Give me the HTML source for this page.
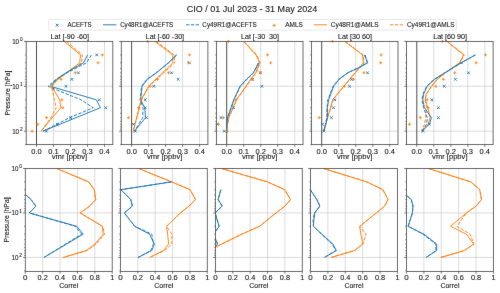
<!DOCTYPE html>
<html><head><meta charset="utf-8"><style>
html,body{margin:0;padding:0;background:#fff;width:500px;height:293px;overflow:hidden}
svg{display:block}
text{font-family:"Liberation Sans",sans-serif;fill:#111;stroke:#111;stroke-width:0.08px}
</style></head><body>
<svg width="500" height="293" viewBox="0 0 500 293">
<filter id="sb" x="0" y="0" width="100%" height="100%" filterUnits="userSpaceOnUse" color-interpolation-filters="sRGB"><feConvolveMatrix order="3" kernelMatrix="0.01 0.05 0.01 0.05 1 0.05 0.01 0.05 0.01"/></filter>
<g filter="url(#sb)">
<rect width="500" height="293" fill="#fff"/>
<defs>
<clipPath id="ct0"><rect x="26.2" y="41.4" width="86.6" height="103.2"/></clipPath>
<clipPath id="cb0"><rect x="25.3" y="168.45" width="86.9" height="102.95"/></clipPath>
<clipPath id="ct1"><rect x="121.3" y="41.4" width="86.6" height="103.2"/></clipPath>
<clipPath id="cb1"><rect x="120.4" y="168.45" width="86.9" height="102.95"/></clipPath>
<clipPath id="ct2"><rect x="216.4" y="41.4" width="86.6" height="103.2"/></clipPath>
<clipPath id="cb2"><rect x="215.4" y="168.45" width="86.9" height="102.95"/></clipPath>
<clipPath id="ct3"><rect x="311.4" y="41.4" width="86.6" height="103.2"/></clipPath>
<clipPath id="cb3"><rect x="310.5" y="168.45" width="86.9" height="102.95"/></clipPath>
<clipPath id="ct4"><rect x="406.5" y="41.4" width="86.6" height="103.2"/></clipPath>
<clipPath id="cb4"><rect x="406.5" y="168.45" width="86.9" height="102.95"/></clipPath>
</defs>
<text x="252" y="11.5" font-size="9.4" text-anchor="middle" textLength="130.68" lengthAdjust="spacingAndGlyphs">CIO / 01 Jul 2023 - 31 May 2024</text>
<rect x="48.6" y="19.4" width="407.8" height="10.7" rx="1.2" fill="#fff" stroke="#d6d6d6" stroke-width="0.6"/>
<path d="M55.8 23.8L58.6 26.6M55.8 26.6L58.6 23.8" stroke="#1f77b4" stroke-width="0.95"/>
<text x="67.45" y="26.9" font-size="6.5" text-anchor="start" textLength="24.1" lengthAdjust="spacingAndGlyphs">ACEFTS</text>
<line x1="103" y1="24.8" x2="116.3" y2="24.8" stroke="#1f77b4" stroke-width="0.95"/>
<text x="120.15" y="26.9" font-size="6.5" text-anchor="start" textLength="52.9" lengthAdjust="spacingAndGlyphs">Cy48R1@ACEFTS</text>
<line x1="186" y1="24.8" x2="199" y2="24.8" stroke="#1f77b4" stroke-width="0.95" stroke-dasharray="3.4,1.5"/>
<text x="202.35" y="26.9" font-size="6.5" text-anchor="start" textLength="54.3" lengthAdjust="spacingAndGlyphs">Cy49R1@ACEFTS</text>
<path d="M272.6 25.3L275.8 25.3M274.2 23.7L274.2 26.9" stroke="#ff7f0e" stroke-width="0.9"/>
<text x="285.15" y="26.9" font-size="6.5" text-anchor="start" textLength="17.7" lengthAdjust="spacingAndGlyphs">AMLS</text>
<line x1="314" y1="24.8" x2="327" y2="24.8" stroke="#ff7f0e" stroke-width="0.95"/>
<text x="330.75" y="26.9" font-size="6.5" text-anchor="start" textLength="47.9" lengthAdjust="spacingAndGlyphs">Cy48R1@AMLS</text>
<line x1="390" y1="24.8" x2="403" y2="24.8" stroke="#ff7f0e" stroke-width="0.95" stroke-dasharray="3.4,1.5"/>
<text x="406.95" y="26.9" font-size="6.5" text-anchor="start" textLength="47.7" lengthAdjust="spacingAndGlyphs">Cy49R1@AMLS</text>
<line x1="53.5" y1="41.4" x2="53.5" y2="144.6" stroke="#d2d2d2" stroke-width="0.8"/>
<line x1="70.5" y1="41.4" x2="70.5" y2="144.6" stroke="#d2d2d2" stroke-width="0.8"/>
<line x1="87.5" y1="41.4" x2="87.5" y2="144.6" stroke="#d2d2d2" stroke-width="0.8"/>
<line x1="104.5" y1="41.4" x2="104.5" y2="144.6" stroke="#d2d2d2" stroke-width="0.8"/>
<line x1="26.2" y1="86.3" x2="112.8" y2="86.3" stroke="#d2d2d2" stroke-width="0.8"/>
<line x1="26.2" y1="131.2" x2="112.8" y2="131.2" stroke="#d2d2d2" stroke-width="0.8"/>
<line x1="36.5" y1="41.4" x2="36.5" y2="144.6" stroke="#3a3a3a" stroke-width="0.9"/>
<g clip-path="url(#ct0)">
<polyline points="64.2,41.4 80.5,54.92 79.7,62.82 66.5,72.78 57.5,79.34 51.5,86.3 59.8,99.82 60.8,107.72 40.9,131.2" fill="none" stroke="#ff7f0e" stroke-width="0.95" stroke-linejoin="round" stroke-linecap="butt"/>
<polyline points="66.5,41.4 82.3,54.92 81.6,62.82 67,72.78 58,79.34 51.6,86.3 54.4,99.82 56.2,107.72 51,117.68 46,124.24 41.5,131.2" fill="none" stroke="#ff7f0e" stroke-width="0.95" stroke-linejoin="round" stroke-linecap="butt" stroke-dasharray="3.4,1.5"/>
<polyline points="87.6,54.92 83.5,62.82 66,72.78 56.5,79.34 50.5,86.3 96.3,99.82 100.4,107.72 42.9,131.2" fill="none" stroke="#1f77b4" stroke-width="0.95" stroke-linejoin="round" stroke-linecap="butt"/>
<polyline points="91.5,54.92 86.4,62.82 67,72.78 56,79.34 48,86.3 81,99.82 93.2,107.72 69.5,117.68 57,124.24 43,131.2" fill="none" stroke="#1f77b4" stroke-width="0.95" stroke-linejoin="round" stroke-linecap="butt" stroke-dasharray="3.4,1.5"/>
</g>
<path d="M95.4 53.62L98 56.22M95.4 56.22L98 53.62" stroke="#1f77b4" stroke-width="0.95"/>
<path d="M77.1 71.48L79.7 74.08M77.1 74.08L79.7 71.48" stroke="#1f77b4" stroke-width="0.95"/>
<path d="M70.5 78.04L73.1 80.64M70.5 80.64L73.1 78.04" stroke="#1f77b4" stroke-width="0.95"/>
<path d="M64.7 85L67.3 87.6M64.7 87.6L67.3 85" stroke="#1f77b4" stroke-width="0.95"/>
<path d="M98 98.52L100.6 101.12M98 101.12L100.6 98.52" stroke="#1f77b4" stroke-width="0.95"/>
<path d="M104.4 106.42L107 109.02M104.4 109.02L107 106.42" stroke="#1f77b4" stroke-width="0.95"/>
<path d="M69.4 116.38L72 118.98M69.4 118.98L72 116.38" stroke="#1f77b4" stroke-width="0.95"/>
<path d="M55.9 122.94L58.5 125.54M55.9 125.54L58.5 122.94" stroke="#1f77b4" stroke-width="0.95"/>
<path d="M45 129.9L47.6 132.5M45 132.5L47.6 129.9" stroke="#1f77b4" stroke-width="0.95"/>
<path d="M100.8 54.92L103.8 54.92M102.3 53.42L102.3 56.42" stroke="#ff7f0e" stroke-width="0.9"/>
<path d="M96.6 62.82L99.6 62.82M98.1 61.32L98.1 64.32" stroke="#ff7f0e" stroke-width="0.9"/>
<path d="M73.8 72.78L76.8 72.78M75.3 71.28L75.3 74.28" stroke="#ff7f0e" stroke-width="0.9"/>
<path d="M59.6 79.34L62.6 79.34M61.1 77.84L61.1 80.84" stroke="#ff7f0e" stroke-width="0.9"/>
<path d="M50 86.3L53 86.3M51.5 84.8L51.5 87.8" stroke="#ff7f0e" stroke-width="0.9"/>
<path d="M60.4 99.82L63.4 99.82M61.9 98.32L61.9 101.32" stroke="#ff7f0e" stroke-width="0.9"/>
<path d="M61.4 107.72L64.4 107.72M62.9 106.22L62.9 109.22" stroke="#ff7f0e" stroke-width="0.9"/>
<path d="M45 117.68L48 117.68M46.5 116.18L46.5 119.18" stroke="#ff7f0e" stroke-width="0.9"/>
<path d="M36.3 124.24L39.3 124.24M37.8 122.74L37.8 125.74" stroke="#ff7f0e" stroke-width="0.9"/>
<path d="M30.6 131.2L33.6 131.2M32.1 129.7L32.1 132.7" stroke="#ff7f0e" stroke-width="0.9"/>
<rect x="26.2" y="41.4" width="86.6" height="103.2" fill="none" stroke="#505050" stroke-width="0.85"/>
<line x1="24" y1="41.4" x2="26.2" y2="41.4" stroke="#505050" stroke-width="0.8"/>
<line x1="24.9" y1="54.92" x2="26.2" y2="54.92" stroke="#505050" stroke-width="0.6"/>
<line x1="24.9" y1="62.82" x2="26.2" y2="62.82" stroke="#505050" stroke-width="0.6"/>
<line x1="24.9" y1="68.43" x2="26.2" y2="68.43" stroke="#505050" stroke-width="0.6"/>
<line x1="24.9" y1="72.78" x2="26.2" y2="72.78" stroke="#505050" stroke-width="0.6"/>
<line x1="24.9" y1="76.34" x2="26.2" y2="76.34" stroke="#505050" stroke-width="0.6"/>
<line x1="24.9" y1="79.34" x2="26.2" y2="79.34" stroke="#505050" stroke-width="0.6"/>
<line x1="24.9" y1="81.95" x2="26.2" y2="81.95" stroke="#505050" stroke-width="0.6"/>
<line x1="24.9" y1="84.25" x2="26.2" y2="84.25" stroke="#505050" stroke-width="0.6"/>
<line x1="24" y1="86.3" x2="26.2" y2="86.3" stroke="#505050" stroke-width="0.8"/>
<line x1="24.9" y1="99.82" x2="26.2" y2="99.82" stroke="#505050" stroke-width="0.6"/>
<line x1="24.9" y1="107.72" x2="26.2" y2="107.72" stroke="#505050" stroke-width="0.6"/>
<line x1="24.9" y1="113.33" x2="26.2" y2="113.33" stroke="#505050" stroke-width="0.6"/>
<line x1="24.9" y1="117.68" x2="26.2" y2="117.68" stroke="#505050" stroke-width="0.6"/>
<line x1="24.9" y1="121.24" x2="26.2" y2="121.24" stroke="#505050" stroke-width="0.6"/>
<line x1="24.9" y1="124.24" x2="26.2" y2="124.24" stroke="#505050" stroke-width="0.6"/>
<line x1="24.9" y1="126.85" x2="26.2" y2="126.85" stroke="#505050" stroke-width="0.6"/>
<line x1="24.9" y1="129.15" x2="26.2" y2="129.15" stroke="#505050" stroke-width="0.6"/>
<line x1="24" y1="131.2" x2="26.2" y2="131.2" stroke="#505050" stroke-width="0.8"/>
<line x1="24.9" y1="144.72" x2="26.2" y2="144.72" stroke="#505050" stroke-width="0.6"/>
<line x1="36.5" y1="144.6" x2="36.5" y2="146.8" stroke="#505050" stroke-width="0.8"/>
<text x="36.5" y="153.5" font-size="6.5" text-anchor="middle" textLength="10.41" lengthAdjust="spacingAndGlyphs">0.0</text>
<line x1="53.5" y1="144.6" x2="53.5" y2="146.8" stroke="#505050" stroke-width="0.8"/>
<text x="53.5" y="153.5" font-size="6.5" text-anchor="middle" textLength="10.41" lengthAdjust="spacingAndGlyphs">0.1</text>
<line x1="70.5" y1="144.6" x2="70.5" y2="146.8" stroke="#505050" stroke-width="0.8"/>
<text x="70.5" y="153.5" font-size="6.5" text-anchor="middle" textLength="10.41" lengthAdjust="spacingAndGlyphs">0.2</text>
<line x1="87.5" y1="144.6" x2="87.5" y2="146.8" stroke="#505050" stroke-width="0.8"/>
<text x="87.5" y="153.5" font-size="6.5" text-anchor="middle" textLength="10.41" lengthAdjust="spacingAndGlyphs">0.3</text>
<line x1="104.5" y1="144.6" x2="104.5" y2="146.8" stroke="#505050" stroke-width="0.8"/>
<text x="104.5" y="153.5" font-size="6.5" text-anchor="middle" textLength="10.41" lengthAdjust="spacingAndGlyphs">0.4</text>
<text x="69.5" y="159" font-size="6.5" text-anchor="middle" textLength="35.4" lengthAdjust="spacingAndGlyphs">vmr [ppbv]</text>
<text x="69.8" y="39" font-size="6.5" text-anchor="middle" textLength="38.38" lengthAdjust="spacingAndGlyphs">Lat [-90 -60]</text>
<line x1="148.6" y1="41.4" x2="148.6" y2="144.6" stroke="#d2d2d2" stroke-width="0.8"/>
<line x1="165.6" y1="41.4" x2="165.6" y2="144.6" stroke="#d2d2d2" stroke-width="0.8"/>
<line x1="182.6" y1="41.4" x2="182.6" y2="144.6" stroke="#d2d2d2" stroke-width="0.8"/>
<line x1="199.6" y1="41.4" x2="199.6" y2="144.6" stroke="#d2d2d2" stroke-width="0.8"/>
<line x1="121.3" y1="86.3" x2="207.9" y2="86.3" stroke="#d2d2d2" stroke-width="0.8"/>
<line x1="121.3" y1="131.2" x2="207.9" y2="131.2" stroke="#d2d2d2" stroke-width="0.8"/>
<line x1="131.6" y1="41.4" x2="131.6" y2="144.6" stroke="#3a3a3a" stroke-width="0.9"/>
<g clip-path="url(#ct1)">
<polyline points="154.9,41.4 172.8,54.92 172.8,62.82 148.5,86.3 141.1,99.82 133.3,131.2" fill="none" stroke="#ff7f0e" stroke-width="0.95" stroke-linejoin="round" stroke-linecap="butt"/>
<polyline points="156,41.4 174.3,54.92 174.8,62.82 149,86.3 141.5,99.82 133.3,131.2" fill="none" stroke="#ff7f0e" stroke-width="0.95" stroke-linejoin="round" stroke-linecap="butt" stroke-dasharray="3.4,1.5"/>
<polyline points="176.4,54.92 168.3,62.82 156.5,72.78 147.3,79.34 142.1,86.3 140.7,99.82 144.8,107.72 145.5,117.68 134.5,131.2" fill="none" stroke="#1f77b4" stroke-width="0.95" stroke-linejoin="round" stroke-linecap="butt"/>
<polyline points="176.8,54.92 168.8,62.82 156,72.78 146.8,79.34 141.5,86.3 140.2,99.82 143,107.72 142.7,117.68 134.5,131.2" fill="none" stroke="#1f77b4" stroke-width="0.95" stroke-linejoin="round" stroke-linecap="butt" stroke-dasharray="3.4,1.5"/>
</g>
<path d="M188.1 61.52L190.7 64.12M188.1 64.12L190.7 61.52" stroke="#1f77b4" stroke-width="0.95"/>
<path d="M170.3 71.48L172.9 74.08M170.3 74.08L172.9 71.48" stroke="#1f77b4" stroke-width="0.95"/>
<path d="M176.9 78.04L179.5 80.64M176.9 80.64L179.5 78.04" stroke="#1f77b4" stroke-width="0.95"/>
<path d="M152.5 85L155.1 87.6M152.5 87.6L155.1 85" stroke="#1f77b4" stroke-width="0.95"/>
<path d="M143.9 98.52L146.5 101.12M143.9 101.12L146.5 98.52" stroke="#1f77b4" stroke-width="0.95"/>
<path d="M143.9 106.42L146.5 109.02M143.9 109.02L146.5 106.42" stroke="#1f77b4" stroke-width="0.95"/>
<path d="M145.1 116.38L147.7 118.98M145.1 118.98L147.7 116.38" stroke="#1f77b4" stroke-width="0.95"/>
<path d="M132 122.94L134.6 125.54M132 125.54L134.6 122.94" stroke="#1f77b4" stroke-width="0.95"/>
<path d="M134 129.9L136.6 132.5M134 132.5L136.6 129.9" stroke="#1f77b4" stroke-width="0.95"/>
<path d="M146.2 41.4L149.2 41.4M147.7 39.9L147.7 42.9" stroke="#ff7f0e" stroke-width="0.9"/>
<path d="M187.9 54.92L190.9 54.92M189.4 53.42L189.4 56.42" stroke="#ff7f0e" stroke-width="0.9"/>
<path d="M187 62.82L190 62.82M188.5 61.32L188.5 64.32" stroke="#ff7f0e" stroke-width="0.9"/>
<path d="M167.1 72.78L170.1 72.78M168.6 71.28L168.6 74.28" stroke="#ff7f0e" stroke-width="0.9"/>
<path d="M155.9 79.34L158.9 79.34M157.4 77.84L157.4 80.84" stroke="#ff7f0e" stroke-width="0.9"/>
<path d="M148.6 86.3L151.6 86.3M150.1 84.8L150.1 87.8" stroke="#ff7f0e" stroke-width="0.9"/>
<path d="M139.2 99.82L142.2 99.82M140.7 98.32L140.7 101.32" stroke="#ff7f0e" stroke-width="0.9"/>
<path d="M137.1 107.72L140.1 107.72M138.6 106.22L138.6 109.22" stroke="#ff7f0e" stroke-width="0.9"/>
<path d="M126.9 117.68L129.9 117.68M128.4 116.18L128.4 119.18" stroke="#ff7f0e" stroke-width="0.9"/>
<rect x="121.3" y="41.4" width="86.6" height="103.2" fill="none" stroke="#505050" stroke-width="0.85"/>
<line x1="119.1" y1="41.4" x2="121.3" y2="41.4" stroke="#505050" stroke-width="0.8"/>
<line x1="120" y1="54.92" x2="121.3" y2="54.92" stroke="#505050" stroke-width="0.6"/>
<line x1="120" y1="62.82" x2="121.3" y2="62.82" stroke="#505050" stroke-width="0.6"/>
<line x1="120" y1="68.43" x2="121.3" y2="68.43" stroke="#505050" stroke-width="0.6"/>
<line x1="120" y1="72.78" x2="121.3" y2="72.78" stroke="#505050" stroke-width="0.6"/>
<line x1="120" y1="76.34" x2="121.3" y2="76.34" stroke="#505050" stroke-width="0.6"/>
<line x1="120" y1="79.34" x2="121.3" y2="79.34" stroke="#505050" stroke-width="0.6"/>
<line x1="120" y1="81.95" x2="121.3" y2="81.95" stroke="#505050" stroke-width="0.6"/>
<line x1="120" y1="84.25" x2="121.3" y2="84.25" stroke="#505050" stroke-width="0.6"/>
<line x1="119.1" y1="86.3" x2="121.3" y2="86.3" stroke="#505050" stroke-width="0.8"/>
<line x1="120" y1="99.82" x2="121.3" y2="99.82" stroke="#505050" stroke-width="0.6"/>
<line x1="120" y1="107.72" x2="121.3" y2="107.72" stroke="#505050" stroke-width="0.6"/>
<line x1="120" y1="113.33" x2="121.3" y2="113.33" stroke="#505050" stroke-width="0.6"/>
<line x1="120" y1="117.68" x2="121.3" y2="117.68" stroke="#505050" stroke-width="0.6"/>
<line x1="120" y1="121.24" x2="121.3" y2="121.24" stroke="#505050" stroke-width="0.6"/>
<line x1="120" y1="124.24" x2="121.3" y2="124.24" stroke="#505050" stroke-width="0.6"/>
<line x1="120" y1="126.85" x2="121.3" y2="126.85" stroke="#505050" stroke-width="0.6"/>
<line x1="120" y1="129.15" x2="121.3" y2="129.15" stroke="#505050" stroke-width="0.6"/>
<line x1="119.1" y1="131.2" x2="121.3" y2="131.2" stroke="#505050" stroke-width="0.8"/>
<line x1="120" y1="144.72" x2="121.3" y2="144.72" stroke="#505050" stroke-width="0.6"/>
<line x1="131.6" y1="144.6" x2="131.6" y2="146.8" stroke="#505050" stroke-width="0.8"/>
<text x="131.6" y="153.5" font-size="6.5" text-anchor="middle" textLength="10.41" lengthAdjust="spacingAndGlyphs">0.0</text>
<line x1="148.6" y1="144.6" x2="148.6" y2="146.8" stroke="#505050" stroke-width="0.8"/>
<text x="148.6" y="153.5" font-size="6.5" text-anchor="middle" textLength="10.41" lengthAdjust="spacingAndGlyphs">0.1</text>
<line x1="165.6" y1="144.6" x2="165.6" y2="146.8" stroke="#505050" stroke-width="0.8"/>
<text x="165.6" y="153.5" font-size="6.5" text-anchor="middle" textLength="10.41" lengthAdjust="spacingAndGlyphs">0.2</text>
<line x1="182.6" y1="144.6" x2="182.6" y2="146.8" stroke="#505050" stroke-width="0.8"/>
<text x="182.6" y="153.5" font-size="6.5" text-anchor="middle" textLength="10.41" lengthAdjust="spacingAndGlyphs">0.3</text>
<line x1="199.6" y1="144.6" x2="199.6" y2="146.8" stroke="#505050" stroke-width="0.8"/>
<text x="199.6" y="153.5" font-size="6.5" text-anchor="middle" textLength="10.41" lengthAdjust="spacingAndGlyphs">0.4</text>
<text x="164.6" y="159" font-size="6.5" text-anchor="middle" textLength="35.4" lengthAdjust="spacingAndGlyphs">vmr [ppbv]</text>
<text x="164.9" y="39" font-size="6.5" text-anchor="middle" textLength="38.38" lengthAdjust="spacingAndGlyphs">Lat [-60 -30]</text>
<line x1="243.7" y1="41.4" x2="243.7" y2="144.6" stroke="#d2d2d2" stroke-width="0.8"/>
<line x1="260.7" y1="41.4" x2="260.7" y2="144.6" stroke="#d2d2d2" stroke-width="0.8"/>
<line x1="277.7" y1="41.4" x2="277.7" y2="144.6" stroke="#d2d2d2" stroke-width="0.8"/>
<line x1="294.7" y1="41.4" x2="294.7" y2="144.6" stroke="#d2d2d2" stroke-width="0.8"/>
<line x1="216.4" y1="86.3" x2="303" y2="86.3" stroke="#d2d2d2" stroke-width="0.8"/>
<line x1="216.4" y1="131.2" x2="303" y2="131.2" stroke="#d2d2d2" stroke-width="0.8"/>
<line x1="226.7" y1="41.4" x2="226.7" y2="144.6" stroke="#3a3a3a" stroke-width="0.9"/>
<g clip-path="url(#ct2)">
<polyline points="243.5,41.4 256,54.92 259.5,62.82 255.8,72.78 250.5,79.34 246,86.3 236.1,99.82 233,107.72 228.5,117.68 227.5,124.24 226.8,131.2" fill="none" stroke="#ff7f0e" stroke-width="0.95" stroke-linejoin="round" stroke-linecap="butt"/>
<polyline points="244,41.4 256.8,54.92 260.2,62.82 256.3,72.78 251,79.34 246.5,86.3 236.6,99.82 233.4,107.72 228.8,117.68 227.6,124.24 226.8,131.2" fill="none" stroke="#ff7f0e" stroke-width="0.95" stroke-linejoin="round" stroke-linecap="butt" stroke-dasharray="3.4,1.5"/>
<polyline points="258.4,62.82 253.4,72.78 246.5,79.34 240,86.3 233.7,99.82 231,107.72 227.5,117.68 226.7,124.24 226.5,131.2" fill="none" stroke="#1f77b4" stroke-width="0.95" stroke-linejoin="round" stroke-linecap="butt"/>
<polyline points="258.8,62.82 253.7,72.78 247,79.34 240.4,86.3 234,99.82 231.3,107.72 227.6,117.68 226.7,124.24 226.5,131.2" fill="none" stroke="#1f77b4" stroke-width="0.95" stroke-linejoin="round" stroke-linecap="butt" stroke-dasharray="3.4,1.5"/>
</g>
<path d="M259.1 71.48L261.7 74.08M259.1 74.08L261.7 71.48" stroke="#1f77b4" stroke-width="0.95"/>
<path d="M251.1 78.04L253.7 80.64M251.1 80.64L253.7 78.04" stroke="#1f77b4" stroke-width="0.95"/>
<path d="M260.5 85L263.1 87.6M260.5 87.6L263.1 85" stroke="#1f77b4" stroke-width="0.95"/>
<path d="M232.2 106.42L234.8 109.02M232.2 109.02L234.8 106.42" stroke="#1f77b4" stroke-width="0.95"/>
<path d="M219.7 116.38L222.3 118.98M219.7 118.98L222.3 116.38" stroke="#1f77b4" stroke-width="0.95"/>
<path d="M216.4 122.94L219 125.54M216.4 125.54L219 122.94" stroke="#1f77b4" stroke-width="0.95"/>
<path d="M223 129.9L225.6 132.5M223 132.5L225.6 129.9" stroke="#1f77b4" stroke-width="0.95"/>
<path d="M226.9 41.4L229.9 41.4M228.4 39.9L228.4 42.9" stroke="#ff7f0e" stroke-width="0.9"/>
<path d="M266 54.92L269 54.92M267.5 53.42L267.5 56.42" stroke="#ff7f0e" stroke-width="0.9"/>
<path d="M269.2 62.82L272.2 62.82M270.7 61.32L270.7 64.32" stroke="#ff7f0e" stroke-width="0.9"/>
<path d="M258.9 72.78L261.9 72.78M260.4 71.28L260.4 74.28" stroke="#ff7f0e" stroke-width="0.9"/>
<path d="M250.9 79.34L253.9 79.34M252.4 77.84L252.4 80.84" stroke="#ff7f0e" stroke-width="0.9"/>
<path d="M234.6 99.82L237.6 99.82M236.1 98.32L236.1 101.32" stroke="#ff7f0e" stroke-width="0.9"/>
<path d="M221.9 117.68L224.9 117.68M223.4 116.18L223.4 119.18" stroke="#ff7f0e" stroke-width="0.9"/>
<path d="M217 124.24L220 124.24M218.5 122.74L218.5 125.74" stroke="#ff7f0e" stroke-width="0.9"/>
<path d="M225.9 131.2L228.9 131.2M227.4 129.7L227.4 132.7" stroke="#ff7f0e" stroke-width="0.9"/>
<rect x="216.4" y="41.4" width="86.6" height="103.2" fill="none" stroke="#505050" stroke-width="0.85"/>
<line x1="214.2" y1="41.4" x2="216.4" y2="41.4" stroke="#505050" stroke-width="0.8"/>
<line x1="215.1" y1="54.92" x2="216.4" y2="54.92" stroke="#505050" stroke-width="0.6"/>
<line x1="215.1" y1="62.82" x2="216.4" y2="62.82" stroke="#505050" stroke-width="0.6"/>
<line x1="215.1" y1="68.43" x2="216.4" y2="68.43" stroke="#505050" stroke-width="0.6"/>
<line x1="215.1" y1="72.78" x2="216.4" y2="72.78" stroke="#505050" stroke-width="0.6"/>
<line x1="215.1" y1="76.34" x2="216.4" y2="76.34" stroke="#505050" stroke-width="0.6"/>
<line x1="215.1" y1="79.34" x2="216.4" y2="79.34" stroke="#505050" stroke-width="0.6"/>
<line x1="215.1" y1="81.95" x2="216.4" y2="81.95" stroke="#505050" stroke-width="0.6"/>
<line x1="215.1" y1="84.25" x2="216.4" y2="84.25" stroke="#505050" stroke-width="0.6"/>
<line x1="214.2" y1="86.3" x2="216.4" y2="86.3" stroke="#505050" stroke-width="0.8"/>
<line x1="215.1" y1="99.82" x2="216.4" y2="99.82" stroke="#505050" stroke-width="0.6"/>
<line x1="215.1" y1="107.72" x2="216.4" y2="107.72" stroke="#505050" stroke-width="0.6"/>
<line x1="215.1" y1="113.33" x2="216.4" y2="113.33" stroke="#505050" stroke-width="0.6"/>
<line x1="215.1" y1="117.68" x2="216.4" y2="117.68" stroke="#505050" stroke-width="0.6"/>
<line x1="215.1" y1="121.24" x2="216.4" y2="121.24" stroke="#505050" stroke-width="0.6"/>
<line x1="215.1" y1="124.24" x2="216.4" y2="124.24" stroke="#505050" stroke-width="0.6"/>
<line x1="215.1" y1="126.85" x2="216.4" y2="126.85" stroke="#505050" stroke-width="0.6"/>
<line x1="215.1" y1="129.15" x2="216.4" y2="129.15" stroke="#505050" stroke-width="0.6"/>
<line x1="214.2" y1="131.2" x2="216.4" y2="131.2" stroke="#505050" stroke-width="0.8"/>
<line x1="215.1" y1="144.72" x2="216.4" y2="144.72" stroke="#505050" stroke-width="0.6"/>
<line x1="226.7" y1="144.6" x2="226.7" y2="146.8" stroke="#505050" stroke-width="0.8"/>
<text x="226.7" y="153.5" font-size="6.5" text-anchor="middle" textLength="10.41" lengthAdjust="spacingAndGlyphs">0.0</text>
<line x1="243.7" y1="144.6" x2="243.7" y2="146.8" stroke="#505050" stroke-width="0.8"/>
<text x="243.7" y="153.5" font-size="6.5" text-anchor="middle" textLength="10.41" lengthAdjust="spacingAndGlyphs">0.1</text>
<line x1="260.7" y1="144.6" x2="260.7" y2="146.8" stroke="#505050" stroke-width="0.8"/>
<text x="260.7" y="153.5" font-size="6.5" text-anchor="middle" textLength="10.41" lengthAdjust="spacingAndGlyphs">0.2</text>
<line x1="277.7" y1="144.6" x2="277.7" y2="146.8" stroke="#505050" stroke-width="0.8"/>
<text x="277.7" y="153.5" font-size="6.5" text-anchor="middle" textLength="10.41" lengthAdjust="spacingAndGlyphs">0.3</text>
<line x1="294.7" y1="144.6" x2="294.7" y2="146.8" stroke="#505050" stroke-width="0.8"/>
<text x="294.7" y="153.5" font-size="6.5" text-anchor="middle" textLength="10.41" lengthAdjust="spacingAndGlyphs">0.4</text>
<text x="259.7" y="159" font-size="6.5" text-anchor="middle" textLength="35.4" lengthAdjust="spacingAndGlyphs">vmr [ppbv]</text>
<text x="260" y="39" font-size="6.5" text-anchor="middle" textLength="38.11" lengthAdjust="spacingAndGlyphs">Lat [-30  30]</text>
<line x1="338.7" y1="41.4" x2="338.7" y2="144.6" stroke="#d2d2d2" stroke-width="0.8"/>
<line x1="355.7" y1="41.4" x2="355.7" y2="144.6" stroke="#d2d2d2" stroke-width="0.8"/>
<line x1="372.7" y1="41.4" x2="372.7" y2="144.6" stroke="#d2d2d2" stroke-width="0.8"/>
<line x1="389.7" y1="41.4" x2="389.7" y2="144.6" stroke="#d2d2d2" stroke-width="0.8"/>
<line x1="311.4" y1="86.3" x2="398" y2="86.3" stroke="#d2d2d2" stroke-width="0.8"/>
<line x1="311.4" y1="131.2" x2="398" y2="131.2" stroke="#d2d2d2" stroke-width="0.8"/>
<line x1="321.7" y1="41.4" x2="321.7" y2="144.6" stroke="#3a3a3a" stroke-width="0.9"/>
<g clip-path="url(#ct3)">
<polyline points="344.7,41.4 362.5,54.92 363.4,62.82 343.6,86.3 332.6,99.82 330.5,107.72 323.5,131.2" fill="none" stroke="#ff7f0e" stroke-width="0.95" stroke-linejoin="round" stroke-linecap="butt"/>
<polyline points="345.2,41.4 363.2,54.92 364,62.82 344,86.3 333,99.82 330.8,107.72 323.5,131.2" fill="none" stroke="#ff7f0e" stroke-width="0.95" stroke-linejoin="round" stroke-linecap="butt" stroke-dasharray="3.4,1.5"/>
<polyline points="364.3,54.92 367.8,62.82 358.8,67.79 348,72.78 339.2,79.34 333.6,86.3 328.7,99.82 327.4,107.72 327.4,117.68 324,131.2" fill="none" stroke="#1f77b4" stroke-width="0.95" stroke-linejoin="round" stroke-linecap="butt"/>
<polyline points="365.2,54.92 367.3,62.82 358.3,67.79 347.5,72.78 338.7,79.34 333,86.3 327.8,99.82 327,107.72 326.8,117.68 324,131.2" fill="none" stroke="#1f77b4" stroke-width="0.95" stroke-linejoin="round" stroke-linecap="butt" stroke-dasharray="3.4,1.5"/>
</g>
<path d="M366.2 71.48L368.8 74.08M366.2 74.08L368.8 71.48" stroke="#1f77b4" stroke-width="0.95"/>
<path d="M350.2 78.04L352.8 80.64M350.2 80.64L352.8 78.04" stroke="#1f77b4" stroke-width="0.95"/>
<path d="M348.2 85L350.8 87.6M348.2 87.6L350.8 85" stroke="#1f77b4" stroke-width="0.95"/>
<path d="M333.5 98.52L336.1 101.12M333.5 101.12L336.1 98.52" stroke="#1f77b4" stroke-width="0.95"/>
<path d="M332.2 106.42L334.8 109.02M332.2 109.02L334.8 106.42" stroke="#1f77b4" stroke-width="0.95"/>
<path d="M330.2 116.38L332.8 118.98M330.2 118.98L332.8 116.38" stroke="#1f77b4" stroke-width="0.95"/>
<path d="M321.2 122.94L323.8 125.54M321.2 125.54L323.8 122.94" stroke="#1f77b4" stroke-width="0.95"/>
<path d="M322.6 129.9L325.2 132.5M322.6 132.5L325.2 129.9" stroke="#1f77b4" stroke-width="0.95"/>
<path d="M330.8 41.4L333.8 41.4M332.3 39.9L332.3 42.9" stroke="#ff7f0e" stroke-width="0.9"/>
<path d="M379.6 54.92L382.6 54.92M381.1 53.42L381.1 56.42" stroke="#ff7f0e" stroke-width="0.9"/>
<path d="M379.1 62.82L382.1 62.82M380.6 61.32L380.6 64.32" stroke="#ff7f0e" stroke-width="0.9"/>
<path d="M362.4 72.78L365.4 72.78M363.9 71.28L363.9 74.28" stroke="#ff7f0e" stroke-width="0.9"/>
<path d="M352.1 79.34L355.1 79.34M353.6 77.84L353.6 80.84" stroke="#ff7f0e" stroke-width="0.9"/>
<path d="M342.8 86.3L345.8 86.3M344.3 84.8L344.3 87.8" stroke="#ff7f0e" stroke-width="0.9"/>
<path d="M317.7 117.68L320.7 117.68M319.2 116.18L319.2 119.18" stroke="#ff7f0e" stroke-width="0.9"/>
<rect x="311.4" y="41.4" width="86.6" height="103.2" fill="none" stroke="#505050" stroke-width="0.85"/>
<line x1="309.2" y1="41.4" x2="311.4" y2="41.4" stroke="#505050" stroke-width="0.8"/>
<line x1="310.1" y1="54.92" x2="311.4" y2="54.92" stroke="#505050" stroke-width="0.6"/>
<line x1="310.1" y1="62.82" x2="311.4" y2="62.82" stroke="#505050" stroke-width="0.6"/>
<line x1="310.1" y1="68.43" x2="311.4" y2="68.43" stroke="#505050" stroke-width="0.6"/>
<line x1="310.1" y1="72.78" x2="311.4" y2="72.78" stroke="#505050" stroke-width="0.6"/>
<line x1="310.1" y1="76.34" x2="311.4" y2="76.34" stroke="#505050" stroke-width="0.6"/>
<line x1="310.1" y1="79.34" x2="311.4" y2="79.34" stroke="#505050" stroke-width="0.6"/>
<line x1="310.1" y1="81.95" x2="311.4" y2="81.95" stroke="#505050" stroke-width="0.6"/>
<line x1="310.1" y1="84.25" x2="311.4" y2="84.25" stroke="#505050" stroke-width="0.6"/>
<line x1="309.2" y1="86.3" x2="311.4" y2="86.3" stroke="#505050" stroke-width="0.8"/>
<line x1="310.1" y1="99.82" x2="311.4" y2="99.82" stroke="#505050" stroke-width="0.6"/>
<line x1="310.1" y1="107.72" x2="311.4" y2="107.72" stroke="#505050" stroke-width="0.6"/>
<line x1="310.1" y1="113.33" x2="311.4" y2="113.33" stroke="#505050" stroke-width="0.6"/>
<line x1="310.1" y1="117.68" x2="311.4" y2="117.68" stroke="#505050" stroke-width="0.6"/>
<line x1="310.1" y1="121.24" x2="311.4" y2="121.24" stroke="#505050" stroke-width="0.6"/>
<line x1="310.1" y1="124.24" x2="311.4" y2="124.24" stroke="#505050" stroke-width="0.6"/>
<line x1="310.1" y1="126.85" x2="311.4" y2="126.85" stroke="#505050" stroke-width="0.6"/>
<line x1="310.1" y1="129.15" x2="311.4" y2="129.15" stroke="#505050" stroke-width="0.6"/>
<line x1="309.2" y1="131.2" x2="311.4" y2="131.2" stroke="#505050" stroke-width="0.8"/>
<line x1="310.1" y1="144.72" x2="311.4" y2="144.72" stroke="#505050" stroke-width="0.6"/>
<line x1="321.7" y1="144.6" x2="321.7" y2="146.8" stroke="#505050" stroke-width="0.8"/>
<text x="321.7" y="153.5" font-size="6.5" text-anchor="middle" textLength="10.41" lengthAdjust="spacingAndGlyphs">0.0</text>
<line x1="338.7" y1="144.6" x2="338.7" y2="146.8" stroke="#505050" stroke-width="0.8"/>
<text x="338.7" y="153.5" font-size="6.5" text-anchor="middle" textLength="10.41" lengthAdjust="spacingAndGlyphs">0.1</text>
<line x1="355.7" y1="144.6" x2="355.7" y2="146.8" stroke="#505050" stroke-width="0.8"/>
<text x="355.7" y="153.5" font-size="6.5" text-anchor="middle" textLength="10.41" lengthAdjust="spacingAndGlyphs">0.2</text>
<line x1="372.7" y1="144.6" x2="372.7" y2="146.8" stroke="#505050" stroke-width="0.8"/>
<text x="372.7" y="153.5" font-size="6.5" text-anchor="middle" textLength="10.41" lengthAdjust="spacingAndGlyphs">0.3</text>
<line x1="389.7" y1="144.6" x2="389.7" y2="146.8" stroke="#505050" stroke-width="0.8"/>
<text x="389.7" y="153.5" font-size="6.5" text-anchor="middle" textLength="10.41" lengthAdjust="spacingAndGlyphs">0.4</text>
<text x="354.7" y="159" font-size="6.5" text-anchor="middle" textLength="35.4" lengthAdjust="spacingAndGlyphs">vmr [ppbv]</text>
<text x="355" y="39" font-size="6.5" text-anchor="middle" textLength="33.87" lengthAdjust="spacingAndGlyphs">Lat [30 60]</text>
<line x1="433.8" y1="41.4" x2="433.8" y2="144.6" stroke="#d2d2d2" stroke-width="0.8"/>
<line x1="450.8" y1="41.4" x2="450.8" y2="144.6" stroke="#d2d2d2" stroke-width="0.8"/>
<line x1="467.8" y1="41.4" x2="467.8" y2="144.6" stroke="#d2d2d2" stroke-width="0.8"/>
<line x1="484.8" y1="41.4" x2="484.8" y2="144.6" stroke="#d2d2d2" stroke-width="0.8"/>
<line x1="406.5" y1="86.3" x2="493.1" y2="86.3" stroke="#d2d2d2" stroke-width="0.8"/>
<line x1="406.5" y1="131.2" x2="493.1" y2="131.2" stroke="#d2d2d2" stroke-width="0.8"/>
<line x1="416.8" y1="41.4" x2="416.8" y2="144.6" stroke="#3a3a3a" stroke-width="0.9"/>
<g clip-path="url(#ct4)">
<polyline points="446.8,41.4 463.7,54.92 459.4,62.82 445.2,72.78 437,79.34 431.3,86.3 426.1,94.21 425.3,99.82 427.9,107.72 430.2,117.68 428.1,124.24 421.5,131.2" fill="none" stroke="#ff7f0e" stroke-width="0.95" stroke-linejoin="round" stroke-linecap="butt"/>
<polyline points="447.3,41.4 464.3,54.92 460,62.82 445.6,72.78 437.4,79.34 431.8,86.3 426.3,94.21 425,99.82 426.5,107.72 425.7,117.68 424.5,124.24 421.5,131.2" fill="none" stroke="#ff7f0e" stroke-width="0.95" stroke-linejoin="round" stroke-linecap="butt" stroke-dasharray="3.4,1.5"/>
<polyline points="475.2,54.92 461,62.82 445,72.78 434.5,79.34 427.2,86.3 423.6,94.21 422.8,99.82 424.4,107.72 431.4,117.68 429.4,124.24 422,131.2" fill="none" stroke="#1f77b4" stroke-width="0.95" stroke-linejoin="round" stroke-linecap="butt"/>
<polyline points="475.6,54.92 461.5,62.82 444.8,72.78 434,79.34 426.6,86.3 422.8,94.21 422,99.82 423.5,107.72 427.3,117.68 426.5,124.24 422,131.2" fill="none" stroke="#1f77b4" stroke-width="0.95" stroke-linejoin="round" stroke-linecap="butt" stroke-dasharray="3.4,1.5"/>
</g>
<path d="M460.1 61.52L462.7 64.12M460.1 64.12L462.7 61.52" stroke="#1f77b4" stroke-width="0.95"/>
<path d="M467.2 71.48L469.8 74.08M467.2 74.08L469.8 71.48" stroke="#1f77b4" stroke-width="0.95"/>
<path d="M454.1 78.04L456.7 80.64M454.1 80.64L456.7 78.04" stroke="#1f77b4" stroke-width="0.95"/>
<path d="M442.9 85L445.5 87.6M442.9 87.6L445.5 85" stroke="#1f77b4" stroke-width="0.95"/>
<path d="M430.5 98.52L433.1 101.12M430.5 101.12L433.1 98.52" stroke="#1f77b4" stroke-width="0.95"/>
<path d="M437.1 106.42L439.7 109.02M437.1 109.02L439.7 106.42" stroke="#1f77b4" stroke-width="0.95"/>
<path d="M437.1 116.38L439.7 118.98M437.1 118.98L439.7 116.38" stroke="#1f77b4" stroke-width="0.95"/>
<path d="M428.1 122.94L430.7 125.54M428.1 125.54L430.7 122.94" stroke="#1f77b4" stroke-width="0.95"/>
<path d="M421.7 129.9L424.3 132.5M421.7 132.5L424.3 129.9" stroke="#1f77b4" stroke-width="0.95"/>
<path d="M440.9 41.4L443.9 41.4M442.4 39.9L442.4 42.9" stroke="#ff7f0e" stroke-width="0.9"/>
<path d="M484 54.92L487 54.92M485.5 53.42L485.5 56.42" stroke="#ff7f0e" stroke-width="0.9"/>
<path d="M474.6 62.82L477.6 62.82M476.1 61.32L476.1 64.32" stroke="#ff7f0e" stroke-width="0.9"/>
<path d="M453.3 72.78L456.3 72.78M454.8 71.28L454.8 74.28" stroke="#ff7f0e" stroke-width="0.9"/>
<path d="M441.8 79.34L444.8 79.34M443.3 77.84L443.3 80.84" stroke="#ff7f0e" stroke-width="0.9"/>
<path d="M434.4 86.3L437.4 86.3M435.9 84.8L435.9 87.8" stroke="#ff7f0e" stroke-width="0.9"/>
<path d="M425.4 99.82L428.4 99.82M426.9 98.32L426.9 101.32" stroke="#ff7f0e" stroke-width="0.9"/>
<path d="M426.6 107.72L429.6 107.72M428.1 106.22L428.1 109.22" stroke="#ff7f0e" stroke-width="0.9"/>
<path d="M418.8 117.68L421.8 117.68M420.3 116.18L420.3 119.18" stroke="#ff7f0e" stroke-width="0.9"/>
<path d="M408 124.24L411 124.24M409.5 122.74L409.5 125.74" stroke="#ff7f0e" stroke-width="0.9"/>
<rect x="406.5" y="41.4" width="86.6" height="103.2" fill="none" stroke="#505050" stroke-width="0.85"/>
<line x1="404.3" y1="41.4" x2="406.5" y2="41.4" stroke="#505050" stroke-width="0.8"/>
<line x1="405.2" y1="54.92" x2="406.5" y2="54.92" stroke="#505050" stroke-width="0.6"/>
<line x1="405.2" y1="62.82" x2="406.5" y2="62.82" stroke="#505050" stroke-width="0.6"/>
<line x1="405.2" y1="68.43" x2="406.5" y2="68.43" stroke="#505050" stroke-width="0.6"/>
<line x1="405.2" y1="72.78" x2="406.5" y2="72.78" stroke="#505050" stroke-width="0.6"/>
<line x1="405.2" y1="76.34" x2="406.5" y2="76.34" stroke="#505050" stroke-width="0.6"/>
<line x1="405.2" y1="79.34" x2="406.5" y2="79.34" stroke="#505050" stroke-width="0.6"/>
<line x1="405.2" y1="81.95" x2="406.5" y2="81.95" stroke="#505050" stroke-width="0.6"/>
<line x1="405.2" y1="84.25" x2="406.5" y2="84.25" stroke="#505050" stroke-width="0.6"/>
<line x1="404.3" y1="86.3" x2="406.5" y2="86.3" stroke="#505050" stroke-width="0.8"/>
<line x1="405.2" y1="99.82" x2="406.5" y2="99.82" stroke="#505050" stroke-width="0.6"/>
<line x1="405.2" y1="107.72" x2="406.5" y2="107.72" stroke="#505050" stroke-width="0.6"/>
<line x1="405.2" y1="113.33" x2="406.5" y2="113.33" stroke="#505050" stroke-width="0.6"/>
<line x1="405.2" y1="117.68" x2="406.5" y2="117.68" stroke="#505050" stroke-width="0.6"/>
<line x1="405.2" y1="121.24" x2="406.5" y2="121.24" stroke="#505050" stroke-width="0.6"/>
<line x1="405.2" y1="124.24" x2="406.5" y2="124.24" stroke="#505050" stroke-width="0.6"/>
<line x1="405.2" y1="126.85" x2="406.5" y2="126.85" stroke="#505050" stroke-width="0.6"/>
<line x1="405.2" y1="129.15" x2="406.5" y2="129.15" stroke="#505050" stroke-width="0.6"/>
<line x1="404.3" y1="131.2" x2="406.5" y2="131.2" stroke="#505050" stroke-width="0.8"/>
<line x1="405.2" y1="144.72" x2="406.5" y2="144.72" stroke="#505050" stroke-width="0.6"/>
<line x1="416.8" y1="144.6" x2="416.8" y2="146.8" stroke="#505050" stroke-width="0.8"/>
<text x="416.8" y="153.5" font-size="6.5" text-anchor="middle" textLength="10.41" lengthAdjust="spacingAndGlyphs">0.0</text>
<line x1="433.8" y1="144.6" x2="433.8" y2="146.8" stroke="#505050" stroke-width="0.8"/>
<text x="433.8" y="153.5" font-size="6.5" text-anchor="middle" textLength="10.41" lengthAdjust="spacingAndGlyphs">0.1</text>
<line x1="450.8" y1="144.6" x2="450.8" y2="146.8" stroke="#505050" stroke-width="0.8"/>
<text x="450.8" y="153.5" font-size="6.5" text-anchor="middle" textLength="10.41" lengthAdjust="spacingAndGlyphs">0.2</text>
<line x1="467.8" y1="144.6" x2="467.8" y2="146.8" stroke="#505050" stroke-width="0.8"/>
<text x="467.8" y="153.5" font-size="6.5" text-anchor="middle" textLength="10.41" lengthAdjust="spacingAndGlyphs">0.3</text>
<line x1="484.8" y1="144.6" x2="484.8" y2="146.8" stroke="#505050" stroke-width="0.8"/>
<text x="484.8" y="153.5" font-size="6.5" text-anchor="middle" textLength="10.41" lengthAdjust="spacingAndGlyphs">0.4</text>
<text x="449.8" y="159" font-size="6.5" text-anchor="middle" textLength="35.4" lengthAdjust="spacingAndGlyphs">vmr [ppbv]</text>
<text x="450.1" y="39" font-size="6.5" text-anchor="middle" textLength="33.87" lengthAdjust="spacingAndGlyphs">Lat [60 90]</text>
<text x="19.1" y="43.75" font-size="6.5" text-anchor="end" textLength="6.95" lengthAdjust="spacingAndGlyphs">10</text>
<text x="19.9" y="41.2" font-size="4.8" text-anchor="start">0</text>
<text x="19.1" y="88.65" font-size="6.5" text-anchor="end" textLength="6.95" lengthAdjust="spacingAndGlyphs">10</text>
<text x="19.9" y="86.1" font-size="4.8" text-anchor="start">1</text>
<text x="19.1" y="133.55" font-size="6.5" text-anchor="end" textLength="6.95" lengthAdjust="spacingAndGlyphs">10</text>
<text x="19.9" y="131" font-size="4.8" text-anchor="start">2</text>
<text x="0" y="0" font-size="6.5" text-anchor="middle" textLength="44.98" lengthAdjust="spacingAndGlyphs" transform="translate(10.0 93) rotate(-90)">Pressure [hPa]</text>
<line x1="42.68" y1="168.45" x2="42.68" y2="271.4" stroke="#d2d2d2" stroke-width="0.8"/>
<line x1="60.06" y1="168.45" x2="60.06" y2="271.4" stroke="#d2d2d2" stroke-width="0.8"/>
<line x1="77.44" y1="168.45" x2="77.44" y2="271.4" stroke="#d2d2d2" stroke-width="0.8"/>
<line x1="94.82" y1="168.45" x2="94.82" y2="271.4" stroke="#d2d2d2" stroke-width="0.8"/>
<line x1="25.3" y1="212.95" x2="112.2" y2="212.95" stroke="#d2d2d2" stroke-width="0.8"/>
<line x1="25.3" y1="257.45" x2="112.2" y2="257.45" stroke="#d2d2d2" stroke-width="0.8"/>
<g clip-path="url(#cb0)">
<polyline points="56.6,168.45 88.6,181.85 94.2,189.68 95.7,199.55 89.8,206.06 80.2,212.95 102.3,226.35 103.3,234.18 94.9,244.05 86.4,250.56 63.1,257.45" fill="none" stroke="#ff7f0e" stroke-width="0.95" stroke-linejoin="round" stroke-linecap="butt"/>
<polyline points="56.6,168.45 88.6,181.85 94.2,189.68 95.7,199.55 89.8,206.06 80.2,212.95 102.6,226.35 104.6,234.18 96,244.05 87,250.56 63.1,257.45" fill="none" stroke="#ff7f0e" stroke-width="0.95" stroke-linejoin="round" stroke-linecap="butt" stroke-dasharray="3.4,1.5"/>
<polyline points="20,189.68 31,199.55 35.9,206.06 29.3,212.95 76.9,226.35 83.2,234.18 44,257.45" fill="none" stroke="#1f77b4" stroke-width="0.95" stroke-linejoin="round" stroke-linecap="butt"/>
<polyline points="20,189.68 31,199.55 35.9,206.06 29.3,212.95 75.5,226.35 81.5,234.18 44,257.45" fill="none" stroke="#1f77b4" stroke-width="0.95" stroke-linejoin="round" stroke-linecap="butt" stroke-dasharray="3.4,1.5"/>
</g>
<rect x="25.3" y="168.45" width="86.9" height="102.95" fill="none" stroke="#505050" stroke-width="0.85"/>
<line x1="23.1" y1="168.45" x2="25.3" y2="168.45" stroke="#505050" stroke-width="0.8"/>
<line x1="24" y1="181.85" x2="25.3" y2="181.85" stroke="#505050" stroke-width="0.6"/>
<line x1="24" y1="189.68" x2="25.3" y2="189.68" stroke="#505050" stroke-width="0.6"/>
<line x1="24" y1="195.24" x2="25.3" y2="195.24" stroke="#505050" stroke-width="0.6"/>
<line x1="24" y1="199.55" x2="25.3" y2="199.55" stroke="#505050" stroke-width="0.6"/>
<line x1="24" y1="203.08" x2="25.3" y2="203.08" stroke="#505050" stroke-width="0.6"/>
<line x1="24" y1="206.06" x2="25.3" y2="206.06" stroke="#505050" stroke-width="0.6"/>
<line x1="24" y1="208.64" x2="25.3" y2="208.64" stroke="#505050" stroke-width="0.6"/>
<line x1="24" y1="210.91" x2="25.3" y2="210.91" stroke="#505050" stroke-width="0.6"/>
<line x1="23.1" y1="212.95" x2="25.3" y2="212.95" stroke="#505050" stroke-width="0.8"/>
<line x1="24" y1="226.35" x2="25.3" y2="226.35" stroke="#505050" stroke-width="0.6"/>
<line x1="24" y1="234.18" x2="25.3" y2="234.18" stroke="#505050" stroke-width="0.6"/>
<line x1="24" y1="239.74" x2="25.3" y2="239.74" stroke="#505050" stroke-width="0.6"/>
<line x1="24" y1="244.05" x2="25.3" y2="244.05" stroke="#505050" stroke-width="0.6"/>
<line x1="24" y1="247.58" x2="25.3" y2="247.58" stroke="#505050" stroke-width="0.6"/>
<line x1="24" y1="250.56" x2="25.3" y2="250.56" stroke="#505050" stroke-width="0.6"/>
<line x1="24" y1="253.14" x2="25.3" y2="253.14" stroke="#505050" stroke-width="0.6"/>
<line x1="24" y1="255.41" x2="25.3" y2="255.41" stroke="#505050" stroke-width="0.6"/>
<line x1="23.1" y1="257.45" x2="25.3" y2="257.45" stroke="#505050" stroke-width="0.8"/>
<line x1="24" y1="270.85" x2="25.3" y2="270.85" stroke="#505050" stroke-width="0.6"/>
<line x1="25.3" y1="271.4" x2="25.3" y2="273.6" stroke="#505050" stroke-width="0.8"/>
<text x="25.3" y="279.8" font-size="6.5" text-anchor="middle" textLength="4.45" lengthAdjust="spacingAndGlyphs">0</text>
<line x1="42.68" y1="271.4" x2="42.68" y2="273.6" stroke="#505050" stroke-width="0.8"/>
<text x="42.68" y="279.8" font-size="6.5" text-anchor="middle" textLength="10.2" lengthAdjust="spacingAndGlyphs">0.2</text>
<line x1="60.06" y1="271.4" x2="60.06" y2="273.6" stroke="#505050" stroke-width="0.8"/>
<text x="60.06" y="279.8" font-size="6.5" text-anchor="middle" textLength="10.2" lengthAdjust="spacingAndGlyphs">0.4</text>
<line x1="77.44" y1="271.4" x2="77.44" y2="273.6" stroke="#505050" stroke-width="0.8"/>
<text x="77.44" y="279.8" font-size="6.5" text-anchor="middle" textLength="10.2" lengthAdjust="spacingAndGlyphs">0.6</text>
<line x1="94.82" y1="271.4" x2="94.82" y2="273.6" stroke="#505050" stroke-width="0.8"/>
<text x="94.82" y="279.8" font-size="6.5" text-anchor="middle" textLength="10.2" lengthAdjust="spacingAndGlyphs">0.8</text>
<line x1="112.2" y1="271.4" x2="112.2" y2="273.6" stroke="#505050" stroke-width="0.8"/>
<text x="112.2" y="279.8" font-size="6.5" text-anchor="middle" textLength="4.01" lengthAdjust="spacingAndGlyphs">1</text>
<text x="68.75" y="288" font-size="6.5" text-anchor="middle" textLength="19.02" lengthAdjust="spacingAndGlyphs">Correl</text>
<line x1="137.78" y1="168.45" x2="137.78" y2="271.4" stroke="#d2d2d2" stroke-width="0.8"/>
<line x1="155.16" y1="168.45" x2="155.16" y2="271.4" stroke="#d2d2d2" stroke-width="0.8"/>
<line x1="172.54" y1="168.45" x2="172.54" y2="271.4" stroke="#d2d2d2" stroke-width="0.8"/>
<line x1="189.92" y1="168.45" x2="189.92" y2="271.4" stroke="#d2d2d2" stroke-width="0.8"/>
<line x1="120.4" y1="212.95" x2="207.3" y2="212.95" stroke="#d2d2d2" stroke-width="0.8"/>
<line x1="120.4" y1="257.45" x2="207.3" y2="257.45" stroke="#d2d2d2" stroke-width="0.8"/>
<g clip-path="url(#cb1)">
<polyline points="138.6,168.45 171.5,181.85 190.1,189.68 195.5,199.55 189.2,206.06 180.3,212.95 166.6,226.35 167.6,234.18 168.7,244.05 163.4,250.56 149.6,257.45" fill="none" stroke="#ff7f0e" stroke-width="0.95" stroke-linejoin="round" stroke-linecap="butt"/>
<polyline points="138.6,168.45 171.5,181.85 190.1,189.68 195.5,199.55 189.2,206.06 180.3,212.95 166.6,226.35 172,234.18 171.9,244.05 164.5,250.56 149.6,257.45" fill="none" stroke="#ff7f0e" stroke-width="0.95" stroke-linejoin="round" stroke-linecap="butt" stroke-dasharray="3.4,1.5"/>
<polyline points="171.5,181.85 120.9,189.68 130.7,199.55 132.4,206.06 124.3,212.95 134.8,226.35 149.6,234.18 154.3,244.05 151.8,250.56 138,257.45" fill="none" stroke="#1f77b4" stroke-width="0.95" stroke-linejoin="round" stroke-linecap="butt"/>
<polyline points="171.5,181.85 120.9,189.68 130.7,199.55 132.4,206.06 124.3,212.95 134.8,226.35 151.8,234.18 153.5,244.05 150.8,250.56 138,257.45" fill="none" stroke="#1f77b4" stroke-width="0.95" stroke-linejoin="round" stroke-linecap="butt" stroke-dasharray="3.4,1.5"/>
</g>
<rect x="120.4" y="168.45" width="86.9" height="102.95" fill="none" stroke="#505050" stroke-width="0.85"/>
<line x1="118.2" y1="168.45" x2="120.4" y2="168.45" stroke="#505050" stroke-width="0.8"/>
<line x1="119.1" y1="181.85" x2="120.4" y2="181.85" stroke="#505050" stroke-width="0.6"/>
<line x1="119.1" y1="189.68" x2="120.4" y2="189.68" stroke="#505050" stroke-width="0.6"/>
<line x1="119.1" y1="195.24" x2="120.4" y2="195.24" stroke="#505050" stroke-width="0.6"/>
<line x1="119.1" y1="199.55" x2="120.4" y2="199.55" stroke="#505050" stroke-width="0.6"/>
<line x1="119.1" y1="203.08" x2="120.4" y2="203.08" stroke="#505050" stroke-width="0.6"/>
<line x1="119.1" y1="206.06" x2="120.4" y2="206.06" stroke="#505050" stroke-width="0.6"/>
<line x1="119.1" y1="208.64" x2="120.4" y2="208.64" stroke="#505050" stroke-width="0.6"/>
<line x1="119.1" y1="210.91" x2="120.4" y2="210.91" stroke="#505050" stroke-width="0.6"/>
<line x1="118.2" y1="212.95" x2="120.4" y2="212.95" stroke="#505050" stroke-width="0.8"/>
<line x1="119.1" y1="226.35" x2="120.4" y2="226.35" stroke="#505050" stroke-width="0.6"/>
<line x1="119.1" y1="234.18" x2="120.4" y2="234.18" stroke="#505050" stroke-width="0.6"/>
<line x1="119.1" y1="239.74" x2="120.4" y2="239.74" stroke="#505050" stroke-width="0.6"/>
<line x1="119.1" y1="244.05" x2="120.4" y2="244.05" stroke="#505050" stroke-width="0.6"/>
<line x1="119.1" y1="247.58" x2="120.4" y2="247.58" stroke="#505050" stroke-width="0.6"/>
<line x1="119.1" y1="250.56" x2="120.4" y2="250.56" stroke="#505050" stroke-width="0.6"/>
<line x1="119.1" y1="253.14" x2="120.4" y2="253.14" stroke="#505050" stroke-width="0.6"/>
<line x1="119.1" y1="255.41" x2="120.4" y2="255.41" stroke="#505050" stroke-width="0.6"/>
<line x1="118.2" y1="257.45" x2="120.4" y2="257.45" stroke="#505050" stroke-width="0.8"/>
<line x1="119.1" y1="270.85" x2="120.4" y2="270.85" stroke="#505050" stroke-width="0.6"/>
<line x1="120.4" y1="271.4" x2="120.4" y2="273.6" stroke="#505050" stroke-width="0.8"/>
<text x="120.4" y="279.8" font-size="6.5" text-anchor="middle" textLength="4.45" lengthAdjust="spacingAndGlyphs">0</text>
<line x1="137.78" y1="271.4" x2="137.78" y2="273.6" stroke="#505050" stroke-width="0.8"/>
<text x="137.78" y="279.8" font-size="6.5" text-anchor="middle" textLength="10.2" lengthAdjust="spacingAndGlyphs">0.2</text>
<line x1="155.16" y1="271.4" x2="155.16" y2="273.6" stroke="#505050" stroke-width="0.8"/>
<text x="155.16" y="279.8" font-size="6.5" text-anchor="middle" textLength="10.2" lengthAdjust="spacingAndGlyphs">0.4</text>
<line x1="172.54" y1="271.4" x2="172.54" y2="273.6" stroke="#505050" stroke-width="0.8"/>
<text x="172.54" y="279.8" font-size="6.5" text-anchor="middle" textLength="10.2" lengthAdjust="spacingAndGlyphs">0.6</text>
<line x1="189.92" y1="271.4" x2="189.92" y2="273.6" stroke="#505050" stroke-width="0.8"/>
<text x="189.92" y="279.8" font-size="6.5" text-anchor="middle" textLength="10.2" lengthAdjust="spacingAndGlyphs">0.8</text>
<line x1="207.3" y1="271.4" x2="207.3" y2="273.6" stroke="#505050" stroke-width="0.8"/>
<text x="207.3" y="279.8" font-size="6.5" text-anchor="middle" textLength="4.01" lengthAdjust="spacingAndGlyphs">1</text>
<text x="163.85" y="288" font-size="6.5" text-anchor="middle" textLength="19.02" lengthAdjust="spacingAndGlyphs">Correl</text>
<line x1="232.78" y1="168.45" x2="232.78" y2="271.4" stroke="#d2d2d2" stroke-width="0.8"/>
<line x1="250.16" y1="168.45" x2="250.16" y2="271.4" stroke="#d2d2d2" stroke-width="0.8"/>
<line x1="267.54" y1="168.45" x2="267.54" y2="271.4" stroke="#d2d2d2" stroke-width="0.8"/>
<line x1="284.92" y1="168.45" x2="284.92" y2="271.4" stroke="#d2d2d2" stroke-width="0.8"/>
<line x1="215.4" y1="212.95" x2="302.3" y2="212.95" stroke="#d2d2d2" stroke-width="0.8"/>
<line x1="215.4" y1="257.45" x2="302.3" y2="257.45" stroke="#d2d2d2" stroke-width="0.8"/>
<g clip-path="url(#cb2)">
<polyline points="221.2,168.45 267.4,181.85 284.6,189.68 290.5,199.55 285.1,206.06 276,212.95 259.5,226.35 241.7,234.18 221.7,244.05 209,250.56" fill="none" stroke="#ff7f0e" stroke-width="0.95" stroke-linejoin="round" stroke-linecap="butt"/>
<polyline points="221.2,168.45 267.4,181.85 284.6,189.68 290.5,199.55 285.1,206.06 276,212.95 259.5,226.35 241.7,234.18 221.7,244.05 209,250.56" fill="none" stroke="#ff7f0e" stroke-width="0.95" stroke-linejoin="round" stroke-linecap="butt" stroke-dasharray="3.4,1.5"/>
<polyline points="220.9,189.68 218.1,199.55 222.2,206.06 215.2,212.95 219.1,226.35 213.5,234.18 217.6,244.05 212,250.56" fill="none" stroke="#1f77b4" stroke-width="0.95" stroke-linejoin="round" stroke-linecap="butt"/>
<polyline points="220.9,189.68 218.1,199.55 222.2,206.06 215.2,212.95 219.1,226.35 213.5,234.18 217.6,244.05 212,250.56" fill="none" stroke="#1f77b4" stroke-width="0.95" stroke-linejoin="round" stroke-linecap="butt" stroke-dasharray="3.4,1.5"/>
</g>
<rect x="215.4" y="168.45" width="86.9" height="102.95" fill="none" stroke="#505050" stroke-width="0.85"/>
<line x1="213.2" y1="168.45" x2="215.4" y2="168.45" stroke="#505050" stroke-width="0.8"/>
<line x1="214.1" y1="181.85" x2="215.4" y2="181.85" stroke="#505050" stroke-width="0.6"/>
<line x1="214.1" y1="189.68" x2="215.4" y2="189.68" stroke="#505050" stroke-width="0.6"/>
<line x1="214.1" y1="195.24" x2="215.4" y2="195.24" stroke="#505050" stroke-width="0.6"/>
<line x1="214.1" y1="199.55" x2="215.4" y2="199.55" stroke="#505050" stroke-width="0.6"/>
<line x1="214.1" y1="203.08" x2="215.4" y2="203.08" stroke="#505050" stroke-width="0.6"/>
<line x1="214.1" y1="206.06" x2="215.4" y2="206.06" stroke="#505050" stroke-width="0.6"/>
<line x1="214.1" y1="208.64" x2="215.4" y2="208.64" stroke="#505050" stroke-width="0.6"/>
<line x1="214.1" y1="210.91" x2="215.4" y2="210.91" stroke="#505050" stroke-width="0.6"/>
<line x1="213.2" y1="212.95" x2="215.4" y2="212.95" stroke="#505050" stroke-width="0.8"/>
<line x1="214.1" y1="226.35" x2="215.4" y2="226.35" stroke="#505050" stroke-width="0.6"/>
<line x1="214.1" y1="234.18" x2="215.4" y2="234.18" stroke="#505050" stroke-width="0.6"/>
<line x1="214.1" y1="239.74" x2="215.4" y2="239.74" stroke="#505050" stroke-width="0.6"/>
<line x1="214.1" y1="244.05" x2="215.4" y2="244.05" stroke="#505050" stroke-width="0.6"/>
<line x1="214.1" y1="247.58" x2="215.4" y2="247.58" stroke="#505050" stroke-width="0.6"/>
<line x1="214.1" y1="250.56" x2="215.4" y2="250.56" stroke="#505050" stroke-width="0.6"/>
<line x1="214.1" y1="253.14" x2="215.4" y2="253.14" stroke="#505050" stroke-width="0.6"/>
<line x1="214.1" y1="255.41" x2="215.4" y2="255.41" stroke="#505050" stroke-width="0.6"/>
<line x1="213.2" y1="257.45" x2="215.4" y2="257.45" stroke="#505050" stroke-width="0.8"/>
<line x1="214.1" y1="270.85" x2="215.4" y2="270.85" stroke="#505050" stroke-width="0.6"/>
<line x1="215.4" y1="271.4" x2="215.4" y2="273.6" stroke="#505050" stroke-width="0.8"/>
<text x="215.4" y="279.8" font-size="6.5" text-anchor="middle" textLength="4.45" lengthAdjust="spacingAndGlyphs">0</text>
<line x1="232.78" y1="271.4" x2="232.78" y2="273.6" stroke="#505050" stroke-width="0.8"/>
<text x="232.78" y="279.8" font-size="6.5" text-anchor="middle" textLength="10.2" lengthAdjust="spacingAndGlyphs">0.2</text>
<line x1="250.16" y1="271.4" x2="250.16" y2="273.6" stroke="#505050" stroke-width="0.8"/>
<text x="250.16" y="279.8" font-size="6.5" text-anchor="middle" textLength="10.2" lengthAdjust="spacingAndGlyphs">0.4</text>
<line x1="267.54" y1="271.4" x2="267.54" y2="273.6" stroke="#505050" stroke-width="0.8"/>
<text x="267.54" y="279.8" font-size="6.5" text-anchor="middle" textLength="10.2" lengthAdjust="spacingAndGlyphs">0.6</text>
<line x1="284.92" y1="271.4" x2="284.92" y2="273.6" stroke="#505050" stroke-width="0.8"/>
<text x="284.92" y="279.8" font-size="6.5" text-anchor="middle" textLength="10.2" lengthAdjust="spacingAndGlyphs">0.8</text>
<line x1="302.3" y1="271.4" x2="302.3" y2="273.6" stroke="#505050" stroke-width="0.8"/>
<text x="302.3" y="279.8" font-size="6.5" text-anchor="middle" textLength="4.01" lengthAdjust="spacingAndGlyphs">1</text>
<text x="258.85" y="288" font-size="6.5" text-anchor="middle" textLength="19.02" lengthAdjust="spacingAndGlyphs">Correl</text>
<line x1="327.88" y1="168.45" x2="327.88" y2="271.4" stroke="#d2d2d2" stroke-width="0.8"/>
<line x1="345.26" y1="168.45" x2="345.26" y2="271.4" stroke="#d2d2d2" stroke-width="0.8"/>
<line x1="362.64" y1="168.45" x2="362.64" y2="271.4" stroke="#d2d2d2" stroke-width="0.8"/>
<line x1="380.02" y1="168.45" x2="380.02" y2="271.4" stroke="#d2d2d2" stroke-width="0.8"/>
<line x1="310.5" y1="212.95" x2="397.4" y2="212.95" stroke="#d2d2d2" stroke-width="0.8"/>
<line x1="310.5" y1="257.45" x2="397.4" y2="257.45" stroke="#d2d2d2" stroke-width="0.8"/>
<g clip-path="url(#cb3)">
<polyline points="323.3,168.45 366.8,181.85 382.8,189.68 388.1,199.55 384.6,206.06 376.3,212.95 359.7,226.35 360.8,234.18 362.9,244.05 354.5,250.56 331.2,257.45" fill="none" stroke="#ff7f0e" stroke-width="0.95" stroke-linejoin="round" stroke-linecap="butt"/>
<polyline points="323.3,168.45 366.8,181.85 382.8,189.68 388.1,199.55 384.6,206.06 376.3,212.95 359.7,226.35 366.1,234.18 362.9,244.05 354.5,250.56 331.2,257.45" fill="none" stroke="#ff7f0e" stroke-width="0.95" stroke-linejoin="round" stroke-linecap="butt" stroke-dasharray="3.4,1.5"/>
<polyline points="310.3,189.68 316.8,199.55 319.9,206.06 314.8,212.95 313.8,220.79 313.3,226.35 322,234.18 332.9,244.05 336.4,250.56 324.4,257.45" fill="none" stroke="#1f77b4" stroke-width="0.95" stroke-linejoin="round" stroke-linecap="butt"/>
<polyline points="310.3,189.68 316.8,199.55 319.9,206.06 314.3,212.95 313,220.79 313.5,226.35 321.5,234.18 332,244.05 335.8,250.56 324.4,257.45" fill="none" stroke="#1f77b4" stroke-width="0.95" stroke-linejoin="round" stroke-linecap="butt" stroke-dasharray="3.4,1.5"/>
</g>
<rect x="310.5" y="168.45" width="86.9" height="102.95" fill="none" stroke="#505050" stroke-width="0.85"/>
<line x1="308.3" y1="168.45" x2="310.5" y2="168.45" stroke="#505050" stroke-width="0.8"/>
<line x1="309.2" y1="181.85" x2="310.5" y2="181.85" stroke="#505050" stroke-width="0.6"/>
<line x1="309.2" y1="189.68" x2="310.5" y2="189.68" stroke="#505050" stroke-width="0.6"/>
<line x1="309.2" y1="195.24" x2="310.5" y2="195.24" stroke="#505050" stroke-width="0.6"/>
<line x1="309.2" y1="199.55" x2="310.5" y2="199.55" stroke="#505050" stroke-width="0.6"/>
<line x1="309.2" y1="203.08" x2="310.5" y2="203.08" stroke="#505050" stroke-width="0.6"/>
<line x1="309.2" y1="206.06" x2="310.5" y2="206.06" stroke="#505050" stroke-width="0.6"/>
<line x1="309.2" y1="208.64" x2="310.5" y2="208.64" stroke="#505050" stroke-width="0.6"/>
<line x1="309.2" y1="210.91" x2="310.5" y2="210.91" stroke="#505050" stroke-width="0.6"/>
<line x1="308.3" y1="212.95" x2="310.5" y2="212.95" stroke="#505050" stroke-width="0.8"/>
<line x1="309.2" y1="226.35" x2="310.5" y2="226.35" stroke="#505050" stroke-width="0.6"/>
<line x1="309.2" y1="234.18" x2="310.5" y2="234.18" stroke="#505050" stroke-width="0.6"/>
<line x1="309.2" y1="239.74" x2="310.5" y2="239.74" stroke="#505050" stroke-width="0.6"/>
<line x1="309.2" y1="244.05" x2="310.5" y2="244.05" stroke="#505050" stroke-width="0.6"/>
<line x1="309.2" y1="247.58" x2="310.5" y2="247.58" stroke="#505050" stroke-width="0.6"/>
<line x1="309.2" y1="250.56" x2="310.5" y2="250.56" stroke="#505050" stroke-width="0.6"/>
<line x1="309.2" y1="253.14" x2="310.5" y2="253.14" stroke="#505050" stroke-width="0.6"/>
<line x1="309.2" y1="255.41" x2="310.5" y2="255.41" stroke="#505050" stroke-width="0.6"/>
<line x1="308.3" y1="257.45" x2="310.5" y2="257.45" stroke="#505050" stroke-width="0.8"/>
<line x1="309.2" y1="270.85" x2="310.5" y2="270.85" stroke="#505050" stroke-width="0.6"/>
<line x1="310.5" y1="271.4" x2="310.5" y2="273.6" stroke="#505050" stroke-width="0.8"/>
<text x="310.5" y="279.8" font-size="6.5" text-anchor="middle" textLength="4.45" lengthAdjust="spacingAndGlyphs">0</text>
<line x1="327.88" y1="271.4" x2="327.88" y2="273.6" stroke="#505050" stroke-width="0.8"/>
<text x="327.88" y="279.8" font-size="6.5" text-anchor="middle" textLength="10.2" lengthAdjust="spacingAndGlyphs">0.2</text>
<line x1="345.26" y1="271.4" x2="345.26" y2="273.6" stroke="#505050" stroke-width="0.8"/>
<text x="345.26" y="279.8" font-size="6.5" text-anchor="middle" textLength="10.2" lengthAdjust="spacingAndGlyphs">0.4</text>
<line x1="362.64" y1="271.4" x2="362.64" y2="273.6" stroke="#505050" stroke-width="0.8"/>
<text x="362.64" y="279.8" font-size="6.5" text-anchor="middle" textLength="10.2" lengthAdjust="spacingAndGlyphs">0.6</text>
<line x1="380.02" y1="271.4" x2="380.02" y2="273.6" stroke="#505050" stroke-width="0.8"/>
<text x="380.02" y="279.8" font-size="6.5" text-anchor="middle" textLength="10.2" lengthAdjust="spacingAndGlyphs">0.8</text>
<line x1="397.4" y1="271.4" x2="397.4" y2="273.6" stroke="#505050" stroke-width="0.8"/>
<text x="397.4" y="279.8" font-size="6.5" text-anchor="middle" textLength="4.01" lengthAdjust="spacingAndGlyphs">1</text>
<text x="353.95" y="288" font-size="6.5" text-anchor="middle" textLength="19.02" lengthAdjust="spacingAndGlyphs">Correl</text>
<line x1="423.88" y1="168.45" x2="423.88" y2="271.4" stroke="#d2d2d2" stroke-width="0.8"/>
<line x1="441.26" y1="168.45" x2="441.26" y2="271.4" stroke="#d2d2d2" stroke-width="0.8"/>
<line x1="458.64" y1="168.45" x2="458.64" y2="271.4" stroke="#d2d2d2" stroke-width="0.8"/>
<line x1="476.02" y1="168.45" x2="476.02" y2="271.4" stroke="#d2d2d2" stroke-width="0.8"/>
<line x1="406.5" y1="212.95" x2="493.4" y2="212.95" stroke="#d2d2d2" stroke-width="0.8"/>
<line x1="406.5" y1="257.45" x2="493.4" y2="257.45" stroke="#d2d2d2" stroke-width="0.8"/>
<g clip-path="url(#cb4)">
<polyline points="428.2,168.45 470.8,181.85 479.7,189.68 481.5,199.55 476.1,206.06 466.4,212.95 450.5,226.35 466.3,234.18 473.7,244.05 464.2,250.56 440.9,257.45" fill="none" stroke="#ff7f0e" stroke-width="0.95" stroke-linejoin="round" stroke-linecap="butt"/>
<polyline points="428.2,168.45 470.8,181.85 479.7,189.68 481.5,199.55 476.1,206.06 466.4,212.95 456.9,226.35 470.1,234.18 474,244.05 464.6,250.56 440.9,257.45" fill="none" stroke="#ff7f0e" stroke-width="0.95" stroke-linejoin="round" stroke-linecap="butt" stroke-dasharray="3.4,1.5"/>
<polyline points="400,189.68 411.3,199.55 413,206.06 412.4,212.95 408.1,226.35 424,234.18 436.7,244.05 436.7,250.56 426.1,257.45" fill="none" stroke="#1f77b4" stroke-width="0.95" stroke-linejoin="round" stroke-linecap="butt"/>
<polyline points="400,189.68 411.3,199.55 413,206.06 412.4,212.95 408.1,226.35 423,234.18 435.5,244.05 436,250.56 426.1,257.45" fill="none" stroke="#1f77b4" stroke-width="0.95" stroke-linejoin="round" stroke-linecap="butt" stroke-dasharray="3.4,1.5"/>
</g>
<rect x="406.5" y="168.45" width="86.9" height="102.95" fill="none" stroke="#505050" stroke-width="0.85"/>
<line x1="404.3" y1="168.45" x2="406.5" y2="168.45" stroke="#505050" stroke-width="0.8"/>
<line x1="405.2" y1="181.85" x2="406.5" y2="181.85" stroke="#505050" stroke-width="0.6"/>
<line x1="405.2" y1="189.68" x2="406.5" y2="189.68" stroke="#505050" stroke-width="0.6"/>
<line x1="405.2" y1="195.24" x2="406.5" y2="195.24" stroke="#505050" stroke-width="0.6"/>
<line x1="405.2" y1="199.55" x2="406.5" y2="199.55" stroke="#505050" stroke-width="0.6"/>
<line x1="405.2" y1="203.08" x2="406.5" y2="203.08" stroke="#505050" stroke-width="0.6"/>
<line x1="405.2" y1="206.06" x2="406.5" y2="206.06" stroke="#505050" stroke-width="0.6"/>
<line x1="405.2" y1="208.64" x2="406.5" y2="208.64" stroke="#505050" stroke-width="0.6"/>
<line x1="405.2" y1="210.91" x2="406.5" y2="210.91" stroke="#505050" stroke-width="0.6"/>
<line x1="404.3" y1="212.95" x2="406.5" y2="212.95" stroke="#505050" stroke-width="0.8"/>
<line x1="405.2" y1="226.35" x2="406.5" y2="226.35" stroke="#505050" stroke-width="0.6"/>
<line x1="405.2" y1="234.18" x2="406.5" y2="234.18" stroke="#505050" stroke-width="0.6"/>
<line x1="405.2" y1="239.74" x2="406.5" y2="239.74" stroke="#505050" stroke-width="0.6"/>
<line x1="405.2" y1="244.05" x2="406.5" y2="244.05" stroke="#505050" stroke-width="0.6"/>
<line x1="405.2" y1="247.58" x2="406.5" y2="247.58" stroke="#505050" stroke-width="0.6"/>
<line x1="405.2" y1="250.56" x2="406.5" y2="250.56" stroke="#505050" stroke-width="0.6"/>
<line x1="405.2" y1="253.14" x2="406.5" y2="253.14" stroke="#505050" stroke-width="0.6"/>
<line x1="405.2" y1="255.41" x2="406.5" y2="255.41" stroke="#505050" stroke-width="0.6"/>
<line x1="404.3" y1="257.45" x2="406.5" y2="257.45" stroke="#505050" stroke-width="0.8"/>
<line x1="405.2" y1="270.85" x2="406.5" y2="270.85" stroke="#505050" stroke-width="0.6"/>
<line x1="406.5" y1="271.4" x2="406.5" y2="273.6" stroke="#505050" stroke-width="0.8"/>
<text x="406.5" y="279.8" font-size="6.5" text-anchor="middle" textLength="4.45" lengthAdjust="spacingAndGlyphs">0</text>
<line x1="423.88" y1="271.4" x2="423.88" y2="273.6" stroke="#505050" stroke-width="0.8"/>
<text x="423.88" y="279.8" font-size="6.5" text-anchor="middle" textLength="10.2" lengthAdjust="spacingAndGlyphs">0.2</text>
<line x1="441.26" y1="271.4" x2="441.26" y2="273.6" stroke="#505050" stroke-width="0.8"/>
<text x="441.26" y="279.8" font-size="6.5" text-anchor="middle" textLength="10.2" lengthAdjust="spacingAndGlyphs">0.4</text>
<line x1="458.64" y1="271.4" x2="458.64" y2="273.6" stroke="#505050" stroke-width="0.8"/>
<text x="458.64" y="279.8" font-size="6.5" text-anchor="middle" textLength="10.2" lengthAdjust="spacingAndGlyphs">0.6</text>
<line x1="476.02" y1="271.4" x2="476.02" y2="273.6" stroke="#505050" stroke-width="0.8"/>
<text x="476.02" y="279.8" font-size="6.5" text-anchor="middle" textLength="10.2" lengthAdjust="spacingAndGlyphs">0.8</text>
<line x1="493.4" y1="271.4" x2="493.4" y2="273.6" stroke="#505050" stroke-width="0.8"/>
<text x="493.4" y="279.8" font-size="6.5" text-anchor="middle" textLength="4.01" lengthAdjust="spacingAndGlyphs">1</text>
<text x="449.95" y="288" font-size="6.5" text-anchor="middle" textLength="19.02" lengthAdjust="spacingAndGlyphs">Correl</text>
<text x="18.4" y="170.8" font-size="6.5" text-anchor="end" textLength="6.95" lengthAdjust="spacingAndGlyphs">10</text>
<text x="19.2" y="168.25" font-size="4.8" text-anchor="start">0</text>
<text x="18.4" y="215.3" font-size="6.5" text-anchor="end" textLength="6.95" lengthAdjust="spacingAndGlyphs">10</text>
<text x="19.2" y="212.75" font-size="4.8" text-anchor="start">1</text>
<text x="18.4" y="259.8" font-size="6.5" text-anchor="end" textLength="6.95" lengthAdjust="spacingAndGlyphs">10</text>
<text x="19.2" y="257.25" font-size="4.8" text-anchor="start">2</text>
<text x="0" y="0" font-size="6.5" text-anchor="middle" textLength="44.98" lengthAdjust="spacingAndGlyphs" transform="translate(9.3 219.92) rotate(-90)">Pressure [hPa]</text>
</g>
</svg>
</body></html>
